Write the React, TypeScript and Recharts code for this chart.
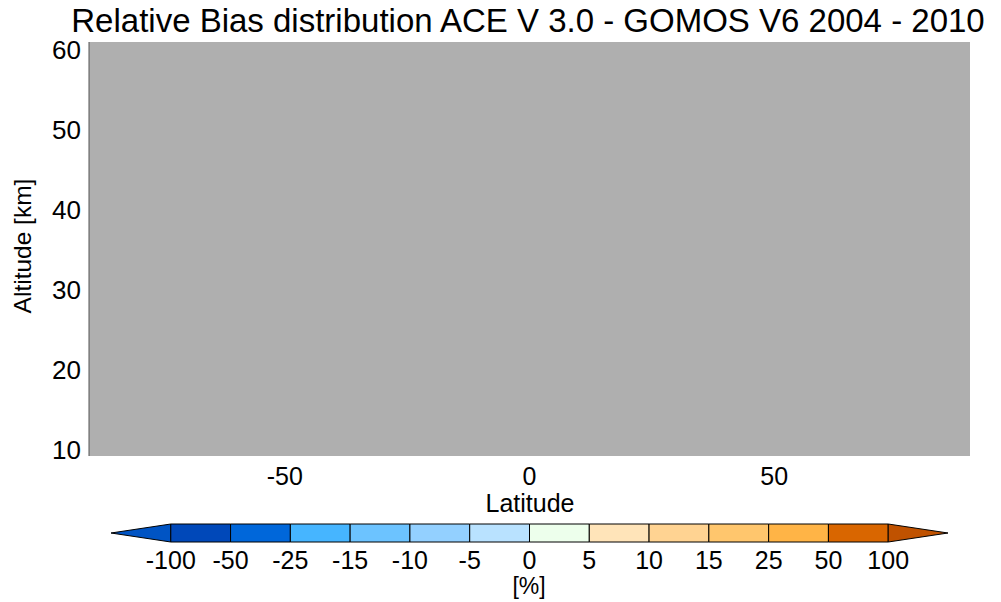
import { ComposedChart, BarChart, Bar, XAxis, YAxis, ReferenceArea, Label } from 'recharts';

const FONT = '"Liberation Sans", Arial, sans-serif';

// Latitude / altitude extents of the plotted field (no valid data -> all grey)
const LAT_RANGE = [-90, 90];
const ALT_RANGE = [9.25, 61];
const LAT_TICKS = [-50, 0, 50];
const ALT_TICKS = [10, 20, 30, 40, 50, 60];

// Colour bar: boundaries and colours (first/last are the end triangles)
const CB_LABELS = ['-100', '-50', '-25', '-15', '-10', '-5', '0', '5', '10', '15', '25', '50', '100'];
const CB_COLORS = [
  '#0054C4', // < -100
  '#0048B9',
  '#0067DA',
  '#46B5FF',
  '#6CC3FF',
  '#93D0FF',
  '#B9E2FF',
  '#EDFFEC',
  '#FFE4B9',
  '#FFD392',
  '#FFC66D',
  '#FFB446',
  '#D96600',
  '#C05200', // > 100
];

const cbRow: Record<string, string | number> = { name: 'bias' };
CB_COLORS.forEach((_, i) => {
  cbRow['s' + i] = 1;
});

const YTick = ({ y, payload }: any) => (
  <text x={81} y={y} dy="0.36em" textAnchor="end" fontSize={26} fontFamily={FONT} fill="#000">
    {payload.value}
  </text>
);

const XTick = ({ x, payload }: any) => (
  <text x={x} y={485} textAnchor="middle" fontSize={25} fontFamily={FONT} fill="#000">
    {payload.value}
  </text>
);

const CbTick = ({ x, payload }: any) => (
  <text x={x} y={59} textAnchor="middle" fontSize={25} fontFamily={FONT} fill="#000">
    {CB_LABELS[payload.value - 1]}
  </text>
);

// end triangles of the colour bar
const leftArrow = (p: any) => (
  <polygon
    points={`${p.x},${p.y + p.height / 2} ${p.x + p.width},${p.y} ${p.x + p.width},${p.y + p.height}`}
    fill={CB_COLORS[0]}
    stroke="#000"
    strokeWidth={1}
  />
);
const rightArrow = (p: any) => (
  <polygon
    points={`${p.x},${p.y} ${p.x + p.width},${p.y + p.height / 2} ${p.x},${p.y + p.height}`}
    fill={CB_COLORS[CB_COLORS.length - 1]}
    stroke="#000"
    strokeWidth={1}
  />
);

export default function App() {
  return (
    <div style={{ position: 'absolute', left: 0, top: 0, width: 1001, height: 602, background: '#fff' }}>
      <svg width={1001} height={44} style={{ position: 'absolute', left: 0, top: 0 }}>
        <text x={528} y={32} textAnchor="middle" fontSize={33} fontFamily={FONT} fill="#000">
          Relative Bias distribution ACE V 3.0 - GOMOS V6 2004 - 2010
        </text>
      </svg>

      <div style={{ position: 'absolute', left: 0, top: 0 }}>
        <ComposedChart width={1001} height={520} data={[]} margin={{ top: 42, right: 31, bottom: 4, left: 29 }}>
          <ReferenceArea
            x1={LAT_RANGE[0]}
            x2={LAT_RANGE[1]}
            y1={ALT_RANGE[0]}
            y2={ALT_RANGE[1]}
            fill="#AFAFAF"
            fillOpacity={1}
            stroke="none"
          />
          <XAxis
            type="number"
            dataKey="lat"
            domain={LAT_RANGE}
            ticks={LAT_TICKS}
            axisLine={false}
            tickLine={false}
            tick={<XTick />}
            height={60}
            allowDataOverflow
          >
            <Label
              content={() => (
                <text x={530} y={512} textAnchor="middle" fontSize={25} fontFamily={FONT} fill="#000">
                  Latitude
                </text>
              )}
            />
          </XAxis>
          <YAxis
            type="number"
            dataKey="alt"
            domain={ALT_RANGE}
            ticks={ALT_TICKS}
            axisLine={{ stroke: '#555', strokeWidth: 1 }}
            tickLine={false}
            tick={<YTick />}
            width={60}
            allowDataOverflow
          >
            <Label
              content={() => (
                <text
                  x={0}
                  y={0}
                  transform="translate(31,246) rotate(-90)"
                  textAnchor="middle"
                  fontSize={24.5}
                  fontFamily={FONT}
                  fill="#000"
                >
                  Altitude [km]
                </text>
              )}
            />
          </YAxis>
        </ComposedChart>
      </div>

      <div style={{ position: 'absolute', left: 0, top: 510 }}>
        <BarChart
          width={1001}
          height={92}
          data={[cbRow]}
          layout="vertical"
          barCategoryGap={0}
          margin={{ top: 14, right: 53, bottom: 0, left: 111 }}
        >
          <YAxis type="category" dataKey="name" hide width={0} />
          <XAxis
            type="number"
            domain={[0, CB_COLORS.length]}
            ticks={CB_LABELS.map((_, i) => i + 1)}
            axisLine={false}
            tickLine={false}
            tick={<CbTick />}
            height={60}
            interval={0}
          >
            <Label
              content={() => (
                <text x={529} y={84} textAnchor="middle" fontSize={23} fontFamily={FONT} fill="#000">
                  [%]
                </text>
              )}
            />
          </XAxis>
          {CB_COLORS.map((c, i) => (
            <Bar
              key={i}
              dataKey={'s' + i}
              stackId="cb"
              fill={c}
              stroke="#000"
              strokeWidth={1}
              isAnimationActive={false}
              shape={i === 0 ? leftArrow : i === CB_COLORS.length - 1 ? rightArrow : undefined}
            />
          ))}
        </BarChart>
      </div>
    </div>
  );
}
